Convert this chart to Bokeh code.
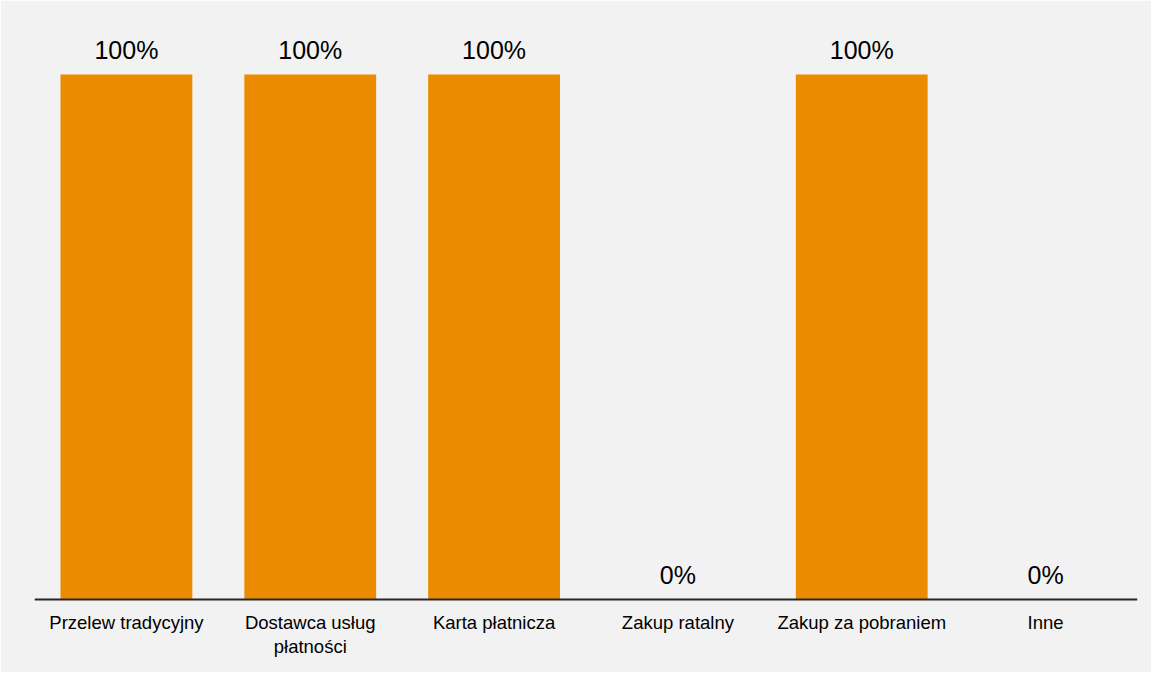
from bokeh.plotting import figure
from bokeh.models import Range1d, ColumnDataSource, Span
from bokeh.embed import file_html
from bokeh.resources import INLINE
from bokeh.core.properties import value

categories = ["Przelew tradycyjny", "Dostawca usług płatności", "Karta płatnicza",
              "Zakup ratalny", "Zakup za pobraniem", "Inne"]
values = [100, 100, 100, 0, 100, 0]
value_labels = ["100%", "100%", "100%", "0%", "100%", "0%"]
tick_labels = ["Przelew tradycyjny", "Dostawca usług\npłatności", "Karta płatnicza",
               "Zakup ratalny", "Zakup za pobraniem", "Inne"]

BG = "#f2f2f2"
ORANGE = "#eb8c00"
FONT = "Liberation Sans"

p = figure(x_range=categories, y_range=Range1d(-13.905, 110.476), width=1151, height=672,
           output_backend="svg", toolbar_location=None,
           min_border_left=34, min_border_right=14, min_border_top=19, min_border_bottom=0)
p.background_fill_color = BG
p.border_fill_color = BG
p.outline_line_color = None
p.xgrid.visible = False
p.ygrid.visible = False
p.yaxis.visible = False
p.xaxis.visible = False

src = ColumnDataSource(dict(x=categories, top=values, lab=value_labels, tick=tick_labels,
                            base=[0] * len(categories)))
p.vbar(x="x", top="top", width=0.717, source=src, color=ORANGE, line_color=None)
p.text(x="x", y="top", text="lab", source=src, text_align="center",
       text_baseline="alphabetic", y_offset=-24, text_font=value(FONT),
       text_font_size="25px", text_color="#000000")
p.add_layout(Span(location=0, dimension="width", line_color="#262626", line_width=2))
p.text(x="x", y="base", text="tick", source=src, text_align="center",
       text_baseline="top", y_offset=12.5, text_font=value(FONT),
       text_font_size="18.5px", text_color="#000000", text_line_height=1.15)

open("out.html", "w").write(file_html(p, INLINE))
